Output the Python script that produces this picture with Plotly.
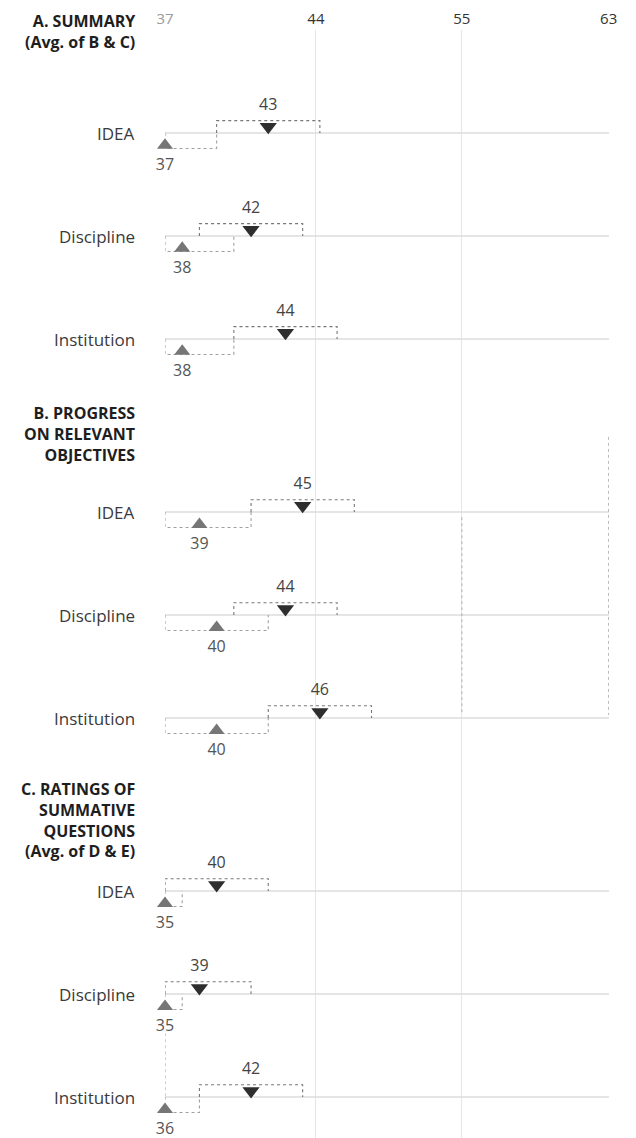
import plotly.graph_objects as go

# ---- data ----
sections = [
    ["A. SUMMARY", "(Avg. of B & C)"],
    ["B. PROGRESS", "ON RELEVANT", "OBJECTIVES"],
    ["C. RATINGS OF", "SUMMATIVE", "QUESTIONS", "(Avg. of D & E)"],
]
groups = ["IDEA", "Discipline", "Institution"]
upper_scores = [[43, 42, 44], [45, 44, 46], [40, 39, 42]]   # dark down-triangles
lower_scores = [[37, 38, 38], [39, 40, 40], [35, 35, 36]]   # gray up-triangles
band = 3
tick_labels = ["37", "44", "55", "63"]

# ---- layout helpers ----
X_MIN, X_MAX = 37, 62.8
TICK_POS = [37, 45.77, 54.25, 62.78]
SECTION_STEP = 3.68
Y_RANGE = [9.757, -1.0]
HEADER_OFFSET = [1.214, 1.084, 1.12]

def clip(v):
    return max(X_MIN, min(X_MAX, v))

def to_paper(y):
    return (Y_RANGE[0] - y) / (Y_RANGE[0] - Y_RANGE[1])

row_y = [[s * SECTION_STEP + r for r in range(len(groups))] for s in range(len(sections))]

fig = go.Figure()

# row baselines
bx, by = [], []
for s in range(3):
    for r in range(3):
        y = row_y[s][r]
        bx += [X_MIN, X_MAX, None]
        by += [y, y, None]
fig.add_trace(go.Scatter(x=bx, y=by, mode="lines", line=dict(color="#dcdcdc", width=1.5),
                         hoverinfo="skip", showlegend=False))

# brackets
ux, uy, lx, ly = [], [], [], []
for s in range(3):
    for r in range(3):
        y = row_y[s][r]
        u = upper_scores[s][r]
        a, b = clip(u - band), clip(u + band)
        ux += [a, a, b, b, None]
        uy += [y, y - 0.12, y - 0.12, y, None]
        l = lower_scores[s][r]
        a, b = clip(l - band), clip(l + band)
        lx += [a, a, b, b, None]
        ly += [y, y + 0.15, y + 0.15, y, None]
fig.add_trace(go.Scatter(x=ux, y=uy, mode="lines", line=dict(color="#777777", width=1.1, dash="dot"),
                         hoverinfo="skip", showlegend=False))
fig.add_trace(go.Scatter(x=lx, y=ly, mode="lines", line=dict(color="#a0a0a0", width=1.1, dash="dot"),
                         hoverinfo="skip", showlegend=False))

# markers + labels
umx, umy, ut, uly = [], [], [], []
lmx, lmy, lt, lly = [], [], [], []
for s in range(3):
    for r in range(3):
        y = row_y[s][r]
        u = upper_scores[s][r]
        umx.append(clip(u)); umy.append(y - 0.06); ut.append(str(u)); uly.append(y - 0.26)
        l = lower_scores[s][r]
        lmx.append(clip(l)); lmy.append(y + 0.12); lt.append(str(l)); lly.append(y + 0.32)

fig.add_trace(go.Scatter(x=umx, y=umy, mode="markers",
                         marker=dict(symbol="triangle-down", size=15, color="#2e2e2e"),
                         cliponaxis=False, hoverinfo="skip", showlegend=False))
fig.add_trace(go.Scatter(x=lmx, y=lmy, mode="markers",
                         marker=dict(symbol="triangle-up", size=14, color="#767676"),
                         cliponaxis=False, hoverinfo="skip", showlegend=False))
fig.add_trace(go.Scatter(x=umx, y=uly, mode="text", text=ut,
                         textfont=dict(family="Open Sans", size=16, color="#444444"),
                         cliponaxis=False, hoverinfo="skip", showlegend=False))
fig.add_trace(go.Scatter(x=lmx, y=lly, mode="text", text=lt,
                         textfont=dict(family="Open Sans", size=16, color="#555555"),
                         cliponaxis=False, hoverinfo="skip", showlegend=False))

annotations = []
for s in range(3):
    annotations.append(dict(
        text="<b>" + "<br>".join(sections[s]) + "</b>", xref="paper", yref="paper",
        x=-0.063, y=to_paper(row_y[s][0] - HEADER_OFFSET[s]),
        xanchor="right", yanchor="top", align="right",
        showarrow=False, font=dict(family="Open Sans", size=16, color="#1e1e1e")))
    for r in range(3):
        annotations.append(dict(
            text=groups[r], xref="paper", yref="y", x=-0.063, y=row_y[s][r],
            xanchor="right", yanchor="middle", align="right", showarrow=False,
            font=dict(family="Open Sans", size=17, color="#3a3a3a")))

# faint dotted verticals visible in sections B and C
shapes = [
    dict(type="line", xref="x", yref="y", x0=TICK_POS[3], x1=TICK_POS[3],
         y0=row_y[1][0] - 0.73, y1=row_y[1][2] - 0.03,
         line=dict(color="#b0b0b0", width=1, dash="dot")),
    dict(type="line", xref="x", yref="y", x0=TICK_POS[2], x1=TICK_POS[2],
         y0=row_y[1][0] + 0.05, y1=row_y[1][2] - 0.03,
         line=dict(color="#b0b0b0", width=1, dash="dot")),
    dict(type="line", xref="x", yref="y", x0=X_MIN, x1=X_MIN,
         y0=row_y[2][1] + 0.38, y1=row_y[2][2],
         line=dict(color="#a0a0a0", width=1, dash="dot")),
]

tick_text = ["<span style='color:#9a9a9a'>" + tick_labels[0] + "</span>"] + tick_labels[1:]

fig.update_layout(
    width=628, height=1130,
    margin=dict(l=157, r=27, t=22, b=0, autoexpand=False),
    paper_bgcolor="white", plot_bgcolor="white",
    annotations=annotations, shapes=shapes,
    xaxis=dict(range=[X_MIN, X_MAX], side="top", tickvals=TICK_POS, ticktext=tick_text,
               showgrid=True, gridcolor="#e6e6e6", gridwidth=1, zeroline=False,
               showline=False, ticks="", ticklabelstandoff=2, automargin=False,
               tickfont=dict(family="Open Sans", size=15, color="#333333")),
    yaxis=dict(range=Y_RANGE, showgrid=False, zeroline=False, showticklabels=False,
               showline=False, ticks="", automargin=False),
)

fig.write_html("out.html")
